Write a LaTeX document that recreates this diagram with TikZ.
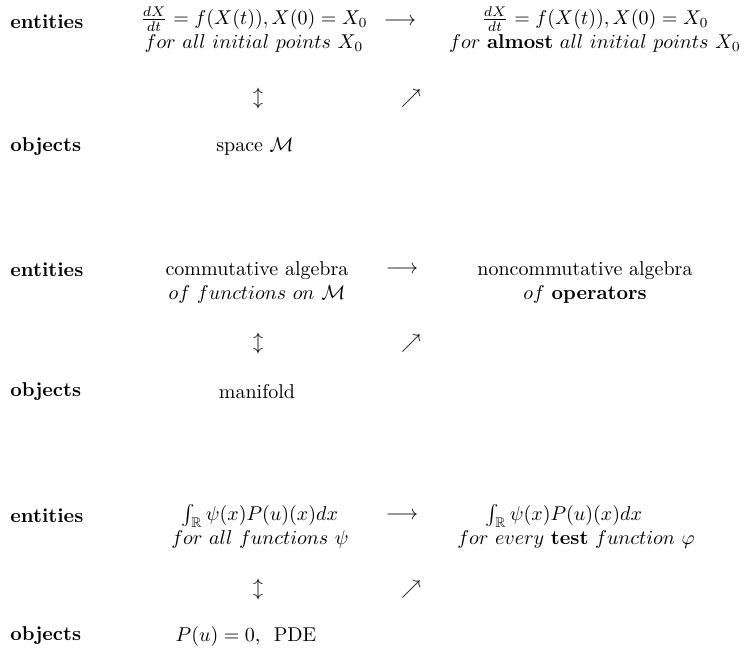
\documentclass[tikz,border=0pt]{standalone}
\usepackage{amsmath}
\usepackage{amssymb}
\usepackage{tikz}
\usetikzlibrary{arrows.meta}

\tikzset{
  rowlabel/.style={font=\bfseries, anchor=west, inner sep=0pt},
  entry/.style={align=center, inner sep=0pt},
  glyph/.style={inner sep=0pt}
}

\begin{document}
\begin{tikzpicture}[x=0.5pt, y=-0.5pt, >=Stealth]
  \useasboundingbox (0,0) rectangle (747,647);

  % Flows
  \node[rowlabel] (ent1) at (10,22) {entities};
  \node[entry] (flowA) at (254,30)
    {$\frac{dX}{dt} = f(X(t)), X(0) = X_0$\\
     $for\ all\ initial\ points\ X_0$};
  \node[glyph] (toA) at (400,22) {$\longrightarrow$};
  \node[entry] (flowB) at (595,30)
    {$\frac{dX}{dt} = f(X(t)), X(0) = X_0$\\
     $for$ \textbf{almost} $all\ initial\ points\ X_0$};
  \node[glyph] (updA) at (258,99) {$\updownarrow$};
  \node[glyph] (neA) at (411,99) {$\nearrow$};
  \node[rowlabel] (obj1) at (10,147) {objects};
  \node[entry] (spaceA) at (255,147) {space $\mathcal{M}$};

  % Algebras
  \node[rowlabel] (ent2) at (10,270) {entities};
  \node[entry] (algA) at (257,282)
    {commutative algebra\\ $of\ functions\ on\ \mathcal{M}$};
  \node[glyph] (toB) at (402,270) {$\longrightarrow$};
  \node[entry] (algB) at (585,282)
    {noncommutative algebra\\ $of$ \textbf{operators}};
  \node[glyph] (updB) at (258,343) {$\updownarrow$};
  \node[glyph] (neB) at (411,343) {$\nearrow$};
  \node[rowlabel] (obj2) at (10,392) {objects};
  \node[entry] (manA) at (257,392) {manifold};

  % Weak solutions
  \node[rowlabel] (ent3) at (10,516) {entities};
  \node[entry] (intA) at (260,526)
    {$\int_{\mathbb{R}} \psi(x)P(u)(x)dx$\\
     $for\ all\ functions\ \psi$};
  \node[glyph] (toC) at (402,516) {$\longrightarrow$};
  \node[entry] (intB) at (576,526)
    {$\int_{\mathbb{R}} \psi(x)P(u)(x)dx$\hspace*{12pt}\\
     $for\ every$ \textbf{test} $function\ \varphi$};
  \node[glyph] (updC) at (258,589) {$\updownarrow$};
  \node[glyph] (neC) at (411,589) {$\nearrow$};
  \node[rowlabel] (obj3) at (10,636) {objects};
  \node[entry] (pdeA) at (246,636) {$P(u) = 0$,\ \ PDE};
\end{tikzpicture}
\end{document}
